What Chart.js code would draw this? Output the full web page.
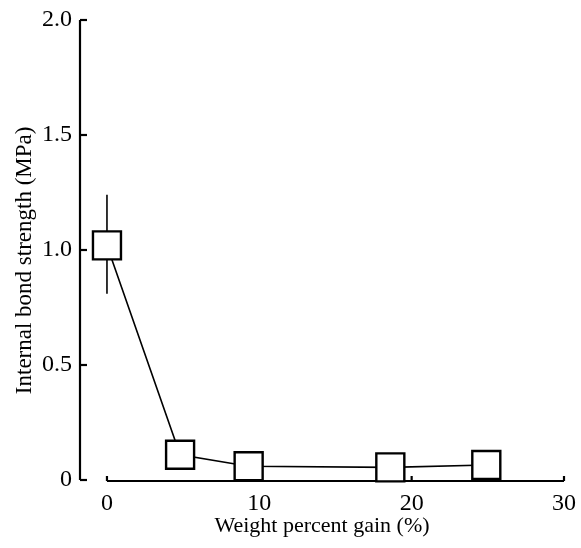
<!DOCTYPE html>
<html>
<head>
<meta charset="utf-8">
<script src="https://cdn.jsdelivr.net/npm/chart.js@4.4.0/dist/chart.umd.min.js"></script>
<style>
html,body{margin:0;padding:0;background:#fff;}
#wrap{width:581px;height:548px;position:relative;}
</style>
</head>
<body>
<div id="wrap"><canvas id="c" width="581" height="548"></canvas></div>
<script>
const weightGain = [0, 4.8, 9.3, 18.6, 24.9];
const bondStrength = [1.02, 0.11, 0.06, 0.055, 0.065];
const errLow = [0.81, null, null, null, null];
const errHigh = [1.24, null, null, null, null];
const xTicks = [0, 10, 20, 30];
const yTicks = [0, 0.5, 1.0, 1.5, 2.0];
const yTickLabels = ['0', '0.5', '1.0', '1.5', '2.0'];
const xTitle = 'Weight percent gain (%)';
const yTitle = 'Internal bond strength (MPa)';

const FONT = "'Liberation Serif', 'DejaVu Serif', serif";

const axesPlugin = {
  id: 'axesPlugin',
  beforeDatasetsDraw(chart) {
    const ctx = chart.ctx;
    const xs = chart.scales.x, ys = chart.scales.y;
    ctx.save();
    ctx.strokeStyle = '#000';
    // error bars
    ctx.lineWidth = 1.6;
    for (let i = 0; i < weightGain.length; i++) {
      if (errLow[i] == null) continue;
      const px = xs.getPixelForValue(weightGain[i]);
      ctx.beginPath();
      ctx.moveTo(px, ys.getPixelForValue(errLow[i]));
      ctx.lineTo(px, ys.getPixelForValue(errHigh[i]));
      ctx.stroke();
    }
    // y axis spine
    ctx.lineWidth = 2.2;
    const yx = xs.left;
    ctx.beginPath();
    ctx.moveTo(yx, ys.getPixelForValue(2.0));
    ctx.lineTo(yx, ys.getPixelForValue(0));
    ctx.stroke();
    yTicks.forEach(v => {
      const py = ys.getPixelForValue(v);
      ctx.beginPath();
      ctx.moveTo(yx, py);
      ctx.lineTo(yx + 7, py);
      ctx.stroke();
    });
    // x axis line
    const by = ys.getPixelForValue(0) + 1;
    ctx.beginPath();
    ctx.moveTo(xs.getPixelForValue(0), by);
    ctx.lineTo(xs.getPixelForValue(30), by);
    ctx.stroke();
    xTicks.forEach(v => {
      const px = xs.getPixelForValue(v);
      ctx.beginPath();
      ctx.moveTo(px, by);
      ctx.lineTo(px, by - 5);
      ctx.stroke();
    });
    // y title
    ctx.fillStyle = '#000';
    ctx.font = "23px " + FONT;
    ctx.textAlign = 'center';
    ctx.textBaseline = 'middle';
    ctx.translate(25, ys.getPixelForValue(0.955));
    ctx.rotate(-Math.PI / 2);
    ctx.fillText(yTitle, 0, 0);
    ctx.restore();
  }
};

new Chart(document.getElementById('c'), {
  type: 'scatter',
  data: {
    datasets: [{
      data: weightGain.map((x, i) => ({x: x, y: bondStrength[i]})),
      showLine: true,
      borderColor: '#000',
      borderWidth: 1.6,
      pointStyle: 'rect',
      pointRadius: 19.8,
      pointHoverRadius: 19.8,
      pointBorderWidth: 2.4,
      pointBackgroundColor: '#fff',
      pointBorderColor: '#000',
      clip: false
    }]
  },
  options: {
    responsive: false,
    animation: false,
    events: [],
    layout: {autoPadding: false, padding: {top: 20, right: 17, left: 0, bottom: 0}},
    plugins: {legend: {display: false}, tooltip: {enabled: false}},
    scales: {
      x: {
        type: 'linear',
        min: -1.77,
        max: 30,
        afterBuildTicks: s => { s.ticks = xTicks.map(v => ({value: v})); },
        afterFit: s => { s.height = 68; s.paddingLeft = 0; s.paddingRight = 0; },
        grid: {display: false, drawTicks: false},
        border: {display: false},
        ticks: {color: '#000', font: {family: FONT, size: 24}, padding: 9, maxRotation: 0, autoSkip: false},
        title: {display: true, text: xTitle, color: '#000', font: {family: FONT, size: 22}, padding: {top: 0, bottom: 9}}
      },
      y: {
        type: 'linear',
        min: 0,
        max: 2.0,
        afterBuildTicks: s => { s.ticks = yTicks.map(v => ({value: v})); },
        afterFit: s => { s.width = 80; s.paddingTop = 0; s.paddingBottom = 0; },
        grid: {display: false, drawTicks: false},
        border: {display: false},
        ticks: {color: '#000', font: {family: FONT, size: 24}, padding: 8,
          callback: (v) => { const i = yTicks.indexOf(v); return i >= 0 ? yTickLabels[i] : ''; }},
        title: {display: false}
      }
    }
  },
  plugins: [axesPlugin]
});
</script>
</body>
</html>
